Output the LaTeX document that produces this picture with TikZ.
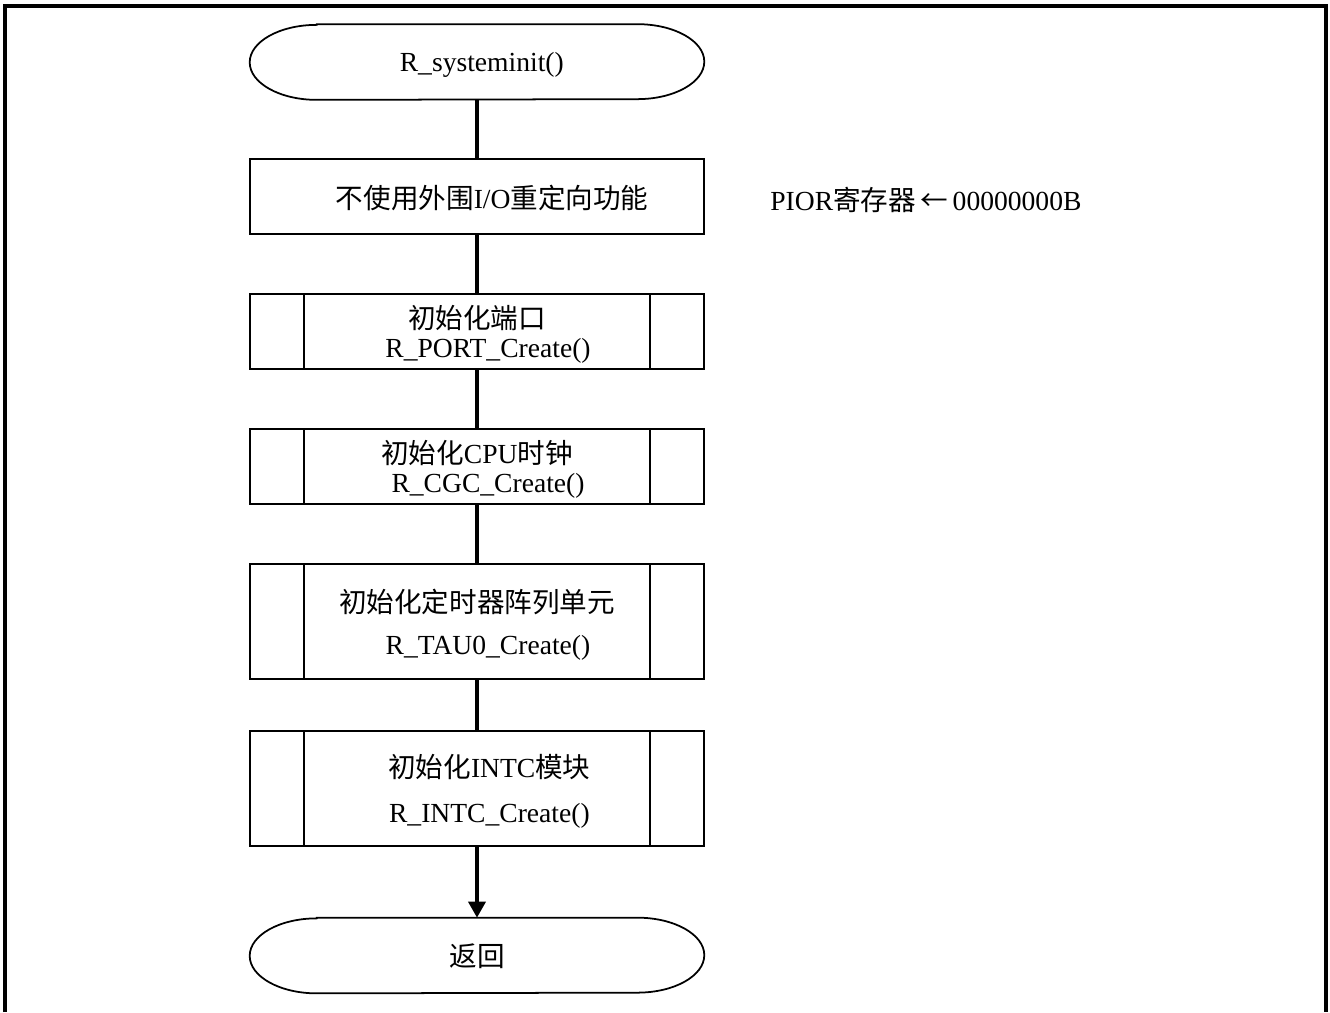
\documentclass[tikz,border=0pt]{standalone}
\usepackage{fontspec}
\setmainfont{Liberation Serif}
\newfontfamily\cjk{Noto Sans CJK SC}
\usetikzlibrary{arrows.meta, positioning, calc}

% outline of a terminator node
\newcommand\termshape[1]{%
  \draw[line width=1pt] ($(#1.north west)+(67,0)$) -- ($(#1.north east)+(-67,0)$)
    arc[start angle=90, end angle=-90, x radius=1.34cm, y radius=0.75cm]
    -- ($(#1.south west)+(67,0)$)
    arc[start angle=270, end angle=90, x radius=1.34cm, y radius=0.75cm] -- cycle;}

\begin{document}
\begin{tikzpicture}[x=0.02cm, y=-0.02cm,
    every node/.style={font=\fontsize{15.7pt}{16.5pt}\selectfont},
    procbox/.style={draw, line width=1pt, minimum width=9.08cm, minimum height=1.5cm, align=center, inner sep=0pt, text depth=-3pt},
    tallbox/.style={procbox, minimum height=2.3cm},
    termbox/.style={minimum width=9.08cm, minimum height=1.5cm, inner sep=0pt, text depth=-4pt},
    flow/.style={line width=2pt},
    flowarrow/.style={flow, -{Triangle[length=0.32cm, width=0.34cm]}}]
  \useasboundingbox (0,0) rectangle (1330,1012);
  % frame
  \draw[line width=2.3pt] (5,1012) -- (5,6) -- (1326,6) -- (1326,1012);
  % start
  \node[termbox] (start) at (477,62) {\hspace*{0.35em}R\_systeminit()};
  \termshape{start}
  % steps
  \node[procbox] (pior) at (477,196.5) {\hspace*{1.1em}{\cjk 不使用外围}I/O{\cjk 重定向功能}};
  \node[procbox] (port) at (477,331.5) {{\cjk 初始化端口}\\\hspace*{0.8em}R\_PORT\_Create()};
  \node[procbox] (cgc) at (477,466.5) {{\cjk 初始化}CPU{\cjk 时钟}\\\hspace*{0.8em}R\_CGC\_Create()};
  \node[tallbox] (tau) at (477,621.5) {{\cjk 初始化定时器阵列单元}\\[7.5pt]\hspace*{0.8em}R\_TAU0\_Create()};
  \node[tallbox] (intc) at (477,788.5) {\hspace*{0.9em}{\cjk 初始化}INTC{\cjk 模块}\\[9pt]\hspace*{0.9em}R\_INTC\_Create()};
  \foreach \n in {port,cgc,tau,intc} {
    \draw[line width=1pt] ($(\n.north west)+(55,0)$) -- ($(\n.south west)+(55,0)$);
    \draw[line width=1pt] ($(\n.north east)+(-55,0)$) -- ($(\n.south east)+(-55,0)$);
  }
  % end
  \node[termbox] (ret) at (477,955.5) {{\cjk 返回}};
  \termshape{ret}
  % note
  \node[anchor=west, inner sep=0pt] (note) at (770,200) {PIOR{\cjk 寄存器\,←\,}00000000B};
  % connectors
  \draw[flow] (start) -- (pior);
  \draw[flow] (pior) -- (port);
  \draw[flow] (port) -- (cgc);
  \draw[flow] (cgc) -- (tau);
  \draw[flow] (tau) -- (intc);
  \draw[flowarrow] (intc) -- (ret);
\end{tikzpicture}
\end{document}
